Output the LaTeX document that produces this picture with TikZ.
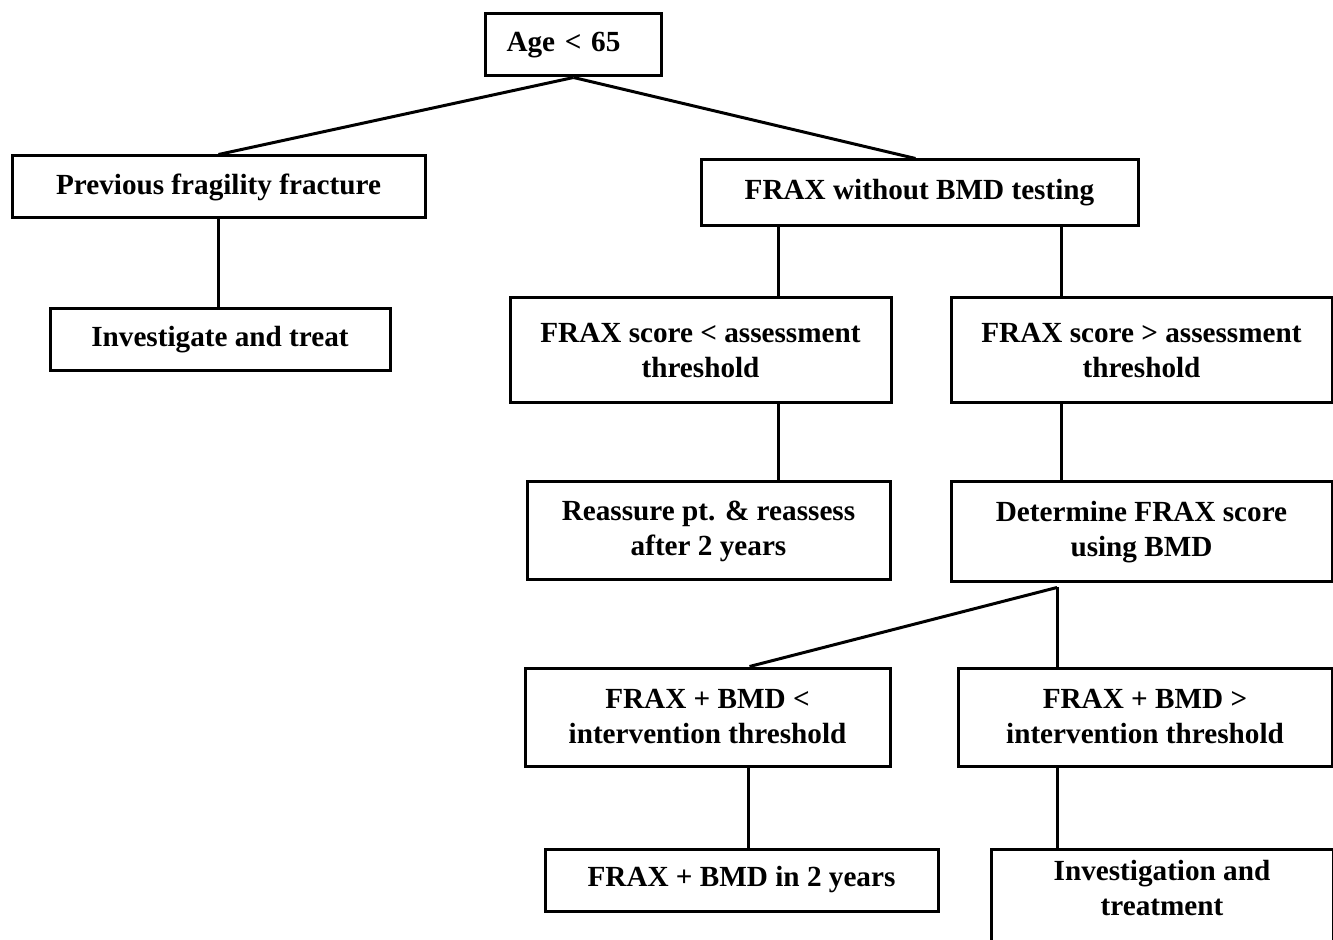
\documentclass[tikz,border=0pt]{standalone}
\usepackage{fontspec}
\setmainfont{Liberation Serif}
\usetikzlibrary{positioning,calc}

\begin{document}
\begin{tikzpicture}[
  x=0.5pt, y=-0.5pt,
  font=\bfseries\fontsize{14.6}{17.5}\selectfont,
  bx/.style={draw, line width=1.5pt, align=center, inner sep=0pt},
  every path/.style={line width=1.5pt}]
\useasboundingbox (0,0) rectangle (1333,940);

% ===== top =====
\node[bx, anchor=west, align=left, text width=67pt, inner xsep=10.5pt,
      minimum height=31pt] (age) at (484,45) {Age < 65};

% ===== left branch =====
\node[bx, minimum width=206.5pt, minimum height=31pt] (prev) at (218.5,187) {Previous fragility fracture};
\node[bx, minimum width=170pt, minimum height=31pt]   (inv)  at (220,340)   {Investigate and treat};

% ===== FRAX without BMD =====
\node[bx, minimum width=218.5pt, minimum height=33pt] (frx)  at (919.5,193) {FRAX without BMD testing};
\node[bx, minimum width=190.5pt, minimum height=52.5pt] (slo) at (700.5,350.5) {FRAX score < assessment\\threshold};
\node[bx, minimum width=190.5pt, minimum height=52.5pt] (shi) at (1141.5,350.5) {FRAX score > assessment\\threshold};
\node[bx, minimum width=181.5pt, minimum height=49pt] (reas) at (708.5,531) {Reassure pt. \& reassess\\after 2 years};
\node[bx, minimum width=190.5pt, minimum height=50pt] (det)  at (1141.5,532) {Determine FRAX score\\using BMD};

% ===== FRAX + BMD =====
\node[bx, minimum width=182.5pt, minimum height=49pt] (blo) at (707.5,717) {FRAX + BMD <\\intervention threshold};
\node[bx, minimum width=187pt, minimum height=49pt]   (bhi) at (1145,717)  {FRAX + BMD >\\intervention threshold};
\node[bx, minimum width=196.5pt, minimum height=31pt] (two) at (741.5,880)  {FRAX + BMD in 2 years};
\node[bx, anchor=north, minimum width=171pt, inner ysep=5.5pt, text depth=25pt]
      (itr) at (1162,848) {Investigation and\\treatment};

% ===== columns =====
\coordinate (cl) at (778,0);
\coordinate (cr) at (1061,0);
\coordinate (cb) at (748,0);
\coordinate (cd) at (1057,0);

% ===== edges =====
\draw (age.south) -- (prev.north);
\draw (age.south) -- ([xshift=-2pt]frx.north);
\draw (prev.south) -- (prev.south |- inv.north);
\draw (frx.south -| cl) -- (slo.north -| cl);
\draw (frx.south -| cr) -- (shi.north -| cr);
\draw (slo.south -| cl) -- (reas.north -| cl);
\draw (shi.south -| cr) -- (det.north -| cr);
\draw ([yshift=-2pt]det.south -| cd) -- ([xshift=21pt]blo.north);
\draw ([yshift=-2pt]det.south -| cd) -- (bhi.north -| cd);
\draw (blo.south -| cb) -- (two.north -| cb);
\draw (bhi.south -| cd) -- (itr.north -| cd);

\end{tikzpicture}
\end{document}
